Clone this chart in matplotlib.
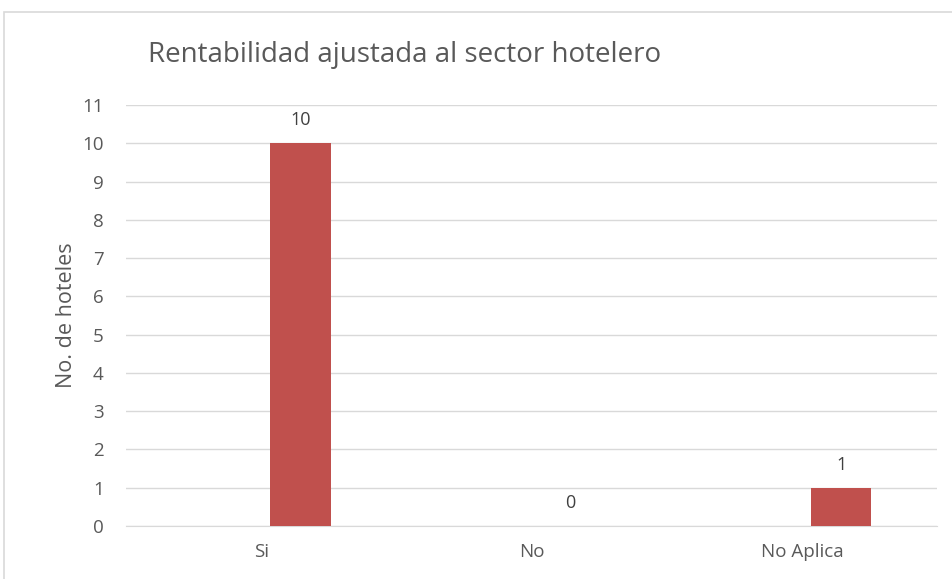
import matplotlib.pyplot as plt
from matplotlib.patches import Rectangle
import numpy as np

categories = ['Si', 'No', 'No Aplica']
values = [10, 0, 1]
yticks = list(range(0, 12))

plt.rcParams['font.family'] = ['Open Sans', 'DejaVu Sans']

fig = plt.figure(figsize=(9.52, 5.79), dpi=100)
W, H = 952, 579
ax = fig.add_axes([126 / W, 1 - 526 / H, (937 - 126) / W, (526 - 105) / H])

# outer chart border (cut off at right / bottom like the original)
fig.patches.append(Rectangle((4 / W, -0.05), 1.1, 1 - 12 / H + 0.05,
                             transform=fig.transFigure, fill=False,
                             edgecolor='#D9D9D9', lw=1.2))

x = np.arange(len(categories))
bar_color = '#C0504D'
ax.bar(x + 0.145, values, width=0.225, color=bar_color, zorder=3)

for xi, v in zip(x, values):
    ax.annotate(str(v), (xi + 0.145, v), xytext=(0, 10), textcoords='offset points',
                ha='center', va='bottom', fontsize=13, color='#404040')

ax.set_xlim(-0.5, 2.5)
ax.set_ylim(0, 11)
ax.set_yticks(yticks)
ax.set_xticks(x)
ax.set_xticklabels(categories)
ax.tick_params(axis='both', length=0, labelsize=13.5, colors='#595959')
ax.tick_params(axis='y', pad=16)
ax.tick_params(axis='x', pad=12)
ax.grid(axis='y', color='#D9D9D9', lw=1, zorder=0)
for s in ['top', 'right', 'left']:
    ax.spines[s].set_visible(False)
ax.spines['bottom'].set_color('#D9D9D9')

ax.set_ylabel('No. de hoteles', fontsize=15.5, color='#595959', labelpad=4)
fig.text(148 / W, 1 - 55 / H, 'Rentabilidad ajustada al sector hotelero',
         fontsize=20, color='#595959', ha='left', va='center')

fig.savefig('out.png', dpi=100)
